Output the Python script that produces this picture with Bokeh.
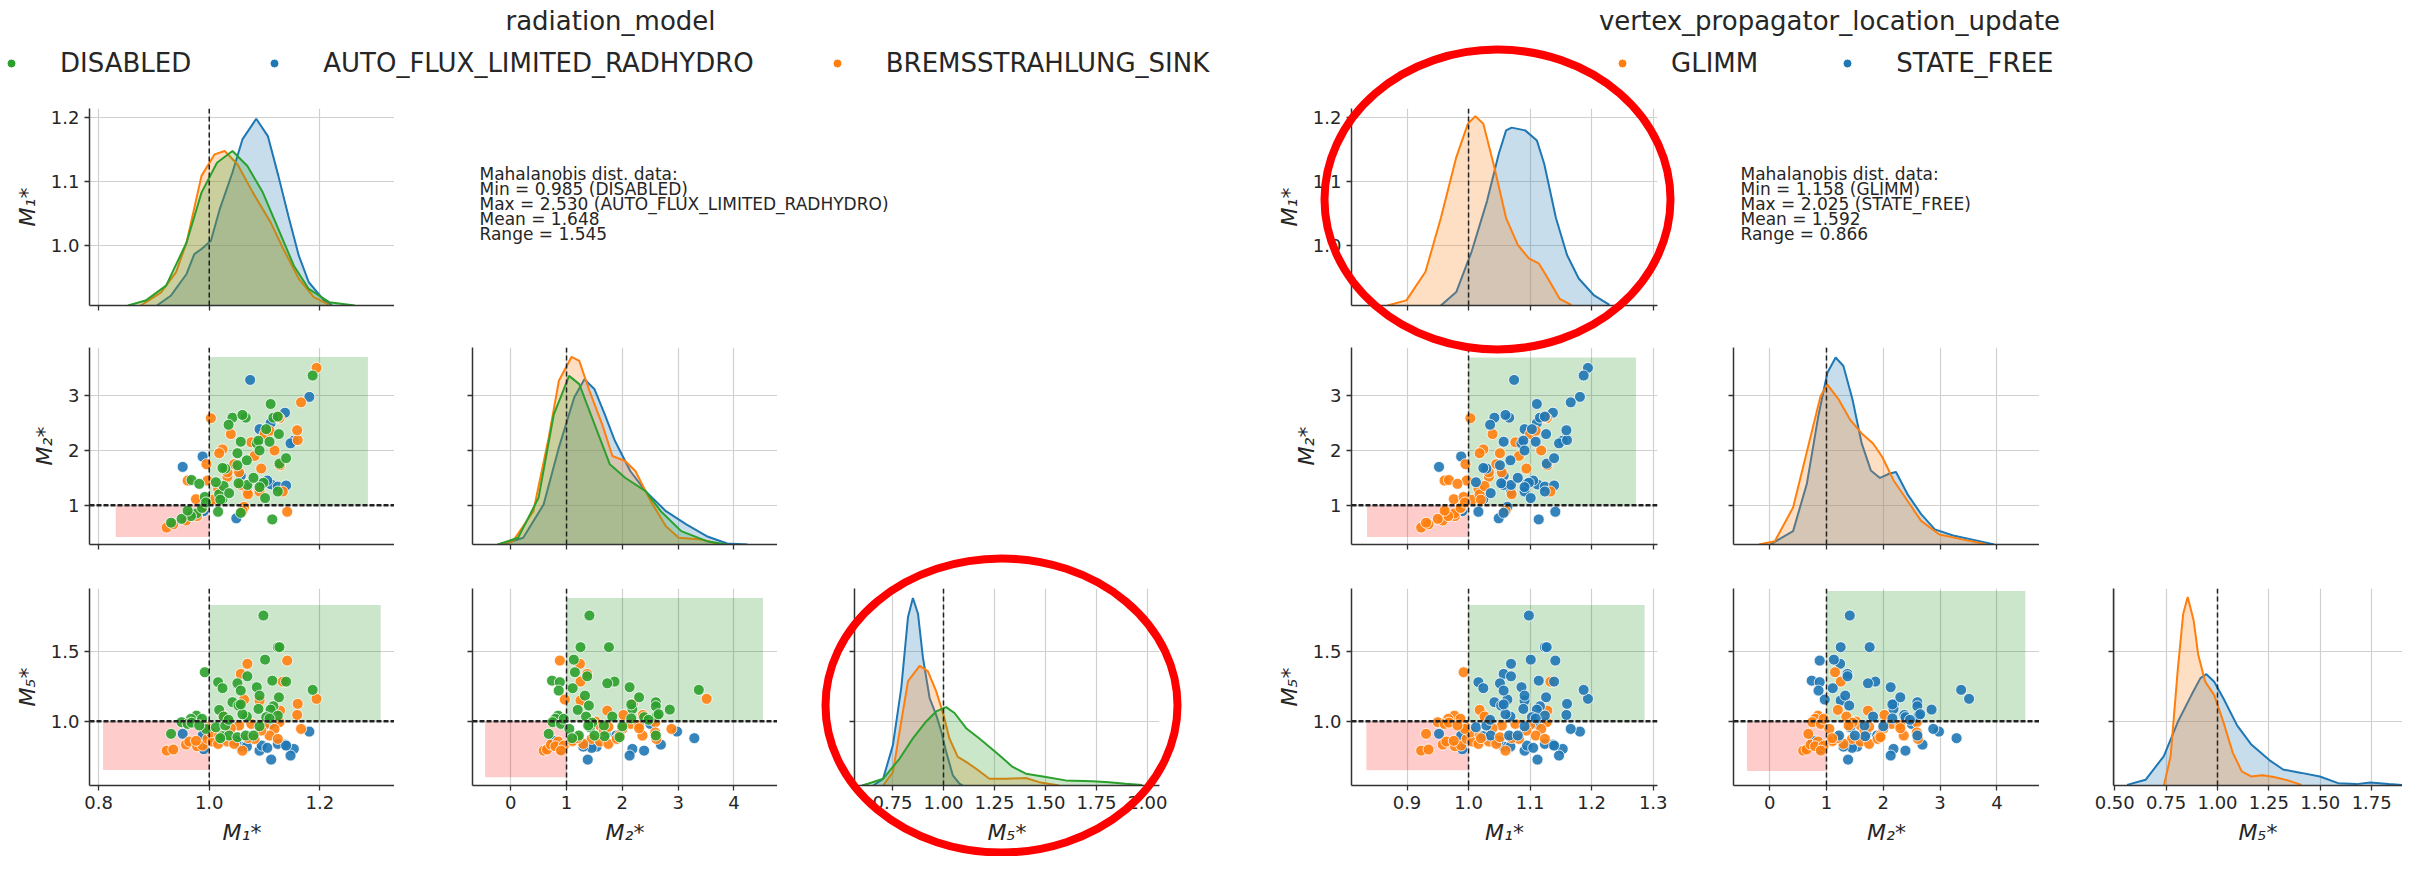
import numpy as np
from bokeh.plotting import figure
from bokeh.models import (Range1d, FixedTicker, PrintfTickFormatter, Span, Label, Legend,
                          Spacer, ColumnDataSource)
from bokeh.layouts import column, row
from bokeh.embed import file_html
from bokeh.resources import INLINE

FONT = "DejaVu Sans"
INK = "#262626"
BLUE, ORANGE, GREEN = "#1f77b4", "#ff7f0e", "#2ca02c"

# ---------------- categories ----------------
RAD_NAMES = {"D": "DISABLED", "A": "AUTO_FLUX_LIMITED_RADHYDRO", "B": "BREMSSTRAHLUNG_SINK"}
RAD_ORDER = ["D", "A", "B"]
RAD_COLOR = {"D": GREEN, "A": BLUE, "B": ORANGE}
VPL_NAMES = {"G": "GLIMM", "S": "STATE_FREE"}
VPL_ORDER = ["G", "S"]
VPL_COLOR = {"G": ORANGE, "S": BLUE}

# ---------------- observations (M1*, M2*, M5*) ----------------
M1 = [1.074, 1.181, 1.137, 1.111, 1.091, 1.153, 1.147, 0.988, 0.952, 1.057, 1.112, 1.124, 1.095, 0.990, 1.049, 1.139, 1.105, 1.068,
      1.069, 1.141, 1.057, 1.133, 1.063, 1.091, 1.160, 1.194, 1.159, 1.128, 1.024, 1.166, 1.033, 1.054, 1.076, 1.100, 1.127, 1.118,
      0.923, 0.935, 0.958, 0.964, 0.978, 0.988, 0.997, 1.006, 1.016, 1.033, 1.045, 1.060, 1.082, 1.109, 1.124, 1.094, 1.003, 1.039,
      0.961, 0.976, 0.995, 1.018, 1.070,
      1.098, 1.124, 1.127, 1.101, 0.992, 1.069, 1.139, 1.114, 1.016, 1.024, 1.051, 1.057, 1.086, 1.187, 1.091, 1.126, 1.042, 1.053,
      1.089, 1.116, 1.018, 1.111, 1.124, 1.068, 1.026, 1.103, 0.977, 0.967, 0.950, 0.961, 0.987, 0.994, 1.012, 1.029, 0.931, 1.024,
      1.036, 1.051, 1.066, 1.080, 1.091, 1.020, 1.060, 1.035, 1.057, 1.109, 0.968, 0.982]
M2 = [3.29, 2.98, 2.69, 2.50, 2.39, 2.18, 2.13, 1.89, 1.70, 1.54, 1.38, 1.34, 1.40, 0.89, 0.76, 1.36, 1.45, 1.30,
      1.24, 0.88, 1.37, 1.25, 0.97, 1.25, 2.19, 3.51, 2.37, 1.73, 2.02, 2.88, 1.52, 1.60, 2.15, 2.30, 2.59, 2.00,
      0.59, 0.65, 0.72, 0.85, 0.80, 0.95, 1.45, 1.10, 1.30, 1.60, 1.75, 0.90, 1.90, 2.36, 2.61, 1.67, 2.59, 2.30,
      1.45, 1.11, 1.75, 1.95, 1.20,
      1.41, 1.25, 1.76, 1.13, 1.15, 1.37, 1.86, 0.74, 0.88, 1.11, 1.73, 0.86, 2.13, 3.37, 1.33, 2.30, 2.60, 1.40,
      2.18, 2.60, 1.20, 2.85, 2.62, 1.82, 1.35, 2.39, 0.85, 0.80, 0.75, 0.90, 0.95, 1.05, 1.42, 1.67, 0.68, 1.68,
      1.22, 1.95, 2.60, 1.50, 2.00, 1.10, 2.65, 2.47, 2.16, 2.16, 1.46, 1.39]
M5 = [0.879, 0.926, 0.833, 0.981, 0.790, 0.802, 0.755, 0.898, 0.910, 0.819, 0.726, 0.838, 0.826, 0.800, 0.860, 0.826, 0.810, 0.819,
      1.410, 1.433, 1.338, 1.283, 1.155, 1.148, 1.124, 1.160, 1.045, 1.076, 1.045, 0.945, 0.998, 0.969, 0.981, 0.974, 0.993, 0.945,
      0.790, 0.798, 0.833, 0.855, 0.821, 0.826, 0.874, 0.855, 0.838, 0.855, 0.838, 0.790, 0.874, 0.898, 0.874, 0.933, 0.920, 0.950,
      0.990, 0.860, 0.960, 0.900, 0.880,
      1.755, 1.529, 1.529, 1.440, 1.350, 1.321, 1.283, 1.290, 1.279, 1.236, 1.271, 1.219, 1.243, 1.224, 1.183, 1.171, 1.136, 1.112,
      1.088, 1.107, 1.081, 1.083, 1.040, 1.033, 1.033, 1.029, 1.040, 1.017, 0.993, 0.981, 1.017, 0.945, 0.957, 0.969, 0.910, 0.893,
      0.898, 0.886, 0.898, 0.898, 0.964, 0.879, 1.050, 1.010, 1.120, 1.020, 0.990, 0.970]
RAD = list("AAAAAAAAAAAAAAAAAA") + list("BBBBBBBBBBBBBBBBBBBBBBBBBBBBBBBBBBBBBBBBB") + \
      list("DDDDDDDDDDDDDDDDDDDDDDDDDDDDDDDDDDDDDDDDDDDDDDDD")
VPL = list("SSSSSSSSSSSSSSSSSS") + \
      list("SSSGSSSSSGGSGGGGGG") + list("GGGGGGGGGGGGGGGGGGGGGGG") + \
      list("SSSSGSSSSSSSSSSSSSSSGSSSGSGGGGGGSSGSSGSSSGSSSSGG")

# ---------------- KDE curves (x, relative height) ----------------
LM1_A_X = [0.9055, 0.931, 0.959, 0.973, 0.986, 1.003, 1.019, 1.042, 1.060, 1.085, 1.106, 1.125, 1.143, 1.162, 1.180, 1.208, 1.222]
LM1_A_H = [0, 0.051, 0.160, 0.261, 0.287, 0.329, 0.489, 0.675, 0.843, 0.948, 0.860, 0.658, 0.455, 0.253, 0.118, 0.025, 0.003]
LM1_B_X = [0.876, 0.913, 0.940, 0.959, 0.986, 1.0095, 1.028, 1.051, 1.079, 1.111, 1.134, 1.162, 1.189, 1.217]
LM1_B_H = [0, 0.067, 0.169, 0.320, 0.658, 0.767, 0.784, 0.717, 0.573, 0.422, 0.287, 0.135, 0.042, 0.003]
LM1_D_X = [0.853, 0.885, 0.922, 0.959, 0.986, 1.014, 1.042, 1.069, 1.097, 1.125, 1.153, 1.180, 1.217, 1.263]
LM1_D_H = [0, 0.025, 0.101, 0.320, 0.573, 0.725, 0.784, 0.708, 0.573, 0.388, 0.202, 0.084, 0.017, 0]

LM2_A_X = [-0.142, 0.224, 0.589, 0.863, 1.137, 1.320, 1.502, 1.685, 1.868, 2.142, 2.416, 2.781, 3.146, 3.511, 3.877, 4.242]
LM2_A_H = [0, 0.034, 0.203, 0.492, 0.746, 0.839, 0.788, 0.661, 0.525, 0.373, 0.271, 0.169, 0.102, 0.042, 0.005, 0]
LM2_B_X = [-0.233, 0.041, 0.406, 0.680, 0.863, 1.091, 1.228, 1.411, 1.639, 1.822, 2.050, 2.233, 2.507, 2.781, 3.009, 3.420, 3.694]
LM2_B_H = [0, 0.017, 0.169, 0.542, 0.831, 0.953, 0.932, 0.780, 0.610, 0.449, 0.424, 0.373, 0.220, 0.093, 0.034, 0.025, 0.005]
LM2_D_X = [-0.233, 0.132, 0.498, 0.772, 1.046, 1.228, 1.502, 1.776, 2.050, 2.416, 2.689, 3.055, 3.511, 3.877]
LM2_D_H = [0, 0.034, 0.237, 0.661, 0.856, 0.814, 0.610, 0.407, 0.339, 0.271, 0.169, 0.068, 0.017, 0]

LM5_A_X = [0.655, 0.704, 0.752, 0.793, 0.826, 0.850, 0.875, 0.899, 0.932, 0.964, 0.989, 1.013, 1.046, 1.078, 1.094]
LM5_A_H = [0, 0.034, 0.205, 0.496, 0.855, 0.952, 0.872, 0.650, 0.444, 0.359, 0.274, 0.171, 0.051, 0.009, 0]
LM5_B_X = [0.704, 0.752, 0.793, 0.826, 0.883, 0.923, 0.964, 1.000, 1.029, 1.070, 1.111, 1.160, 1.225, 1.306, 1.404, 1.469, 1.567]
LM5_B_H = [0, 0.068, 0.325, 0.530, 0.607, 0.581, 0.479, 0.359, 0.239, 0.145, 0.120, 0.085, 0.034, 0.034, 0.038, 0.017, 0]
LM5_D_X = [0.600, 0.630, 0.704, 0.785, 0.850, 0.915, 0.964, 1.013, 1.054, 1.111, 1.176, 1.274, 1.339, 1.404, 1.502, 1.599, 1.730, 1.811, 1.893, 1.974]
LM5_D_H = [0, 0.009, 0.034, 0.137, 0.239, 0.325, 0.376, 0.398, 0.368, 0.291, 0.239, 0.154, 0.094, 0.060, 0.043, 0.026, 0.021, 0.017, 0.009, 0.003]

RM1_G_X = [0.868, 0.899, 0.930, 0.955, 0.980, 0.999, 1.011, 1.024, 1.042, 1.061, 1.080, 1.098, 1.114, 1.129, 1.148, 1.167]
RM1_G_H = [0, 0.026, 0.171, 0.444, 0.752, 0.923, 0.961, 0.923, 0.701, 0.444, 0.308, 0.239, 0.214, 0.137, 0.034, 0.003]
RM1_S_X = [0.955, 0.980, 1.005, 1.030, 1.049, 1.061, 1.070, 1.092, 1.111, 1.123, 1.142, 1.160, 1.179, 1.204, 1.229]
RM1_S_H = [0, 0.068, 0.274, 0.530, 0.769, 0.889, 0.903, 0.889, 0.838, 0.718, 0.444, 0.256, 0.137, 0.051, 0.003]

RM2_S_X = [0.010, 0.412, 0.654, 0.855, 1.016, 1.161, 1.298, 1.459, 1.620, 1.781, 1.942, 2.103, 2.223, 2.425, 2.666, 2.907, 3.229, 3.551, 3.954]
RM2_S_H = [0, 0.068, 0.308, 0.650, 0.872, 0.949, 0.906, 0.735, 0.513, 0.376, 0.338, 0.359, 0.368, 0.256, 0.154, 0.077, 0.046, 0.026, 0]
RM2_G_X = [-0.191, 0.091, 0.412, 0.734, 0.895, 1.016, 1.217, 1.419, 1.620, 1.821, 1.982, 2.183, 2.425, 2.666, 2.988, 3.390, 3.793]
RM2_G_H = [0, 0.017, 0.188, 0.564, 0.752, 0.812, 0.735, 0.632, 0.564, 0.513, 0.444, 0.325, 0.222, 0.120, 0.051, 0.026, 0.003]

RM5_G_X = [0.739, 0.772, 0.806, 0.833, 0.855, 0.884, 0.906, 0.940, 0.984, 1.029, 1.074, 1.118, 1.163, 1.219, 1.275, 1.342, 1.408]
RM5_G_H = [0, 0.149, 0.579, 0.871, 0.957, 0.837, 0.665, 0.527, 0.459, 0.321, 0.167, 0.072, 0.046, 0.052, 0.043, 0.026, 0.003]
RM5_S_X = [0.560, 0.650, 0.739, 0.806, 0.873, 0.917, 0.946, 0.984, 1.029, 1.096, 1.163, 1.252, 1.319, 1.408, 1.498, 1.587, 1.676, 1.743, 1.833, 1.922]
RM5_S_H = [0.003, 0.029, 0.149, 0.321, 0.459, 0.545, 0.565, 0.527, 0.442, 0.304, 0.210, 0.129, 0.081, 0.064, 0.046, 0.012, 0.007, 0.015, 0.007, 0]

# ---------------- shaded regions (left, right, bottom, top) : [red, green] ----------------
RECT_L_12 = ([0.831, 1.0], [1.0, 1.287], [0.42, 1.0], [1.0, 3.71])
RECT_L_15 = ([0.808, 1.0], [1.0, 1.310], [0.652, 1.0], [1.0, 1.83])
RECT_L_25 = ([-0.46, 1.0], [1.0, 4.52], [0.60, 1.0], [1.0, 1.88])
RECT_R_12 = ([0.835, 1.0], [1.0, 1.272], [0.42, 1.0], [1.0, 3.70])
RECT_R_15 = ([0.834, 1.0], [1.0, 1.286], [0.65, 1.0], [1.0, 1.83])
RECT_R_25 = ([-0.40, 1.0], [1.0, 4.50], [0.645, 1.0], [1.0, 1.93])
RECT_COLORS = ["red", "green"]

# ---------------- texts ----------------
LEFT_TITLE = "radiation_model"
RIGHT_TITLE = "vertex_propagator_location_update"
LEFT_STATS = ["Mahalanobis dist. data:", "Min = 0.985 (DISABLED)",
              "Max = 2.530 (AUTO_FLUX_LIMITED_RADHYDRO)", "Mean = 1.648", "Range = 1.545"]
RIGHT_STATS = ["Mahalanobis dist. data:", "Min = 1.158 (GLIMM)",
               "Max = 2.025 (STATE_FREE)", "Mean = 1.592", "Range = 0.866"]
LAB1, LAB2, LAB5 = "M\u2081*", "M\u2082*", "M\u2085*"

# ---------------- red highlight ellipses (page pixels: centre x, centre y, width, height) ----------------
ELL_X = [1001, 1497]
ELL_Y = [705, 199]
ELL_W = [352, 346]
ELL_H = [294, 300]

# ---------------- axis ranges and ticks ----------------
XR_L1, XR_L2, XR_L3 = (0.7835, 1.335), (-0.685, 4.78), (0.5637, 2.059)
XR_R1, XR_R2, XR_R3 = (0.8098, 1.307), (-0.637, 4.75), (0.494, 1.90)
YR_1, YR_2, YR_3 = (0.906, 1.214), (0.281, 3.883), (0.541, 1.948)
TK_L1 = [0.8, 1.0, 1.2]
TK_R1 = [0.9, 1.0, 1.1, 1.2, 1.3]
TK_2 = [0, 1, 2, 3, 4]
TK_L3 = [0.75, 1.0, 1.25, 1.5, 1.75, 2.0]
TK_R3 = [0.5, 0.75, 1.0, 1.25, 1.5, 1.75]
TY_1, TY_2, TY_3 = [1.0, 1.1, 1.2], [1, 2, 3], [1.0, 1.5]

PAGE_W, PAGE_H = 2402, 856
FH = 197
ROW_B = {1: (12, 20), 2: (22, 10), 3: (34, 71)}
ROW_H = {r: FH + t + b for r, (t, b) in ROW_B.items()}
HDR_H = 96


def style_axis(ax, show, label):
    ax.axis_line_color = "#333333"
    ax.axis_line_width = 1.5
    ax.major_tick_line_color = "#333333"
    ax.major_tick_line_width = 1.3
    ax.major_tick_out = 5
    ax.major_tick_in = 0
    ax.minor_tick_line_color = None
    ax.major_label_text_font = FONT
    if show:
        ax.major_label_text_color = INK
        ax.major_label_text_font_size = "18px"
        ax.major_label_standoff = 5
    else:
        ax.major_label_text_color = None
        ax.major_label_text_font_size = "1px"
        ax.major_label_standoff = 0
    if label:
        ax.axis_label = label
        ax.axis_label_text_font = FONT
        ax.axis_label_text_font_size = "22px"
        ax.axis_label_text_font_style = "italic"
        ax.axis_label_text_color = INK
        ax.axis_label_standoff = 8


def panel(xr, yr, xt, yt, xfmt, yfmt, fw, bl, br, rown, xlab=None, ylab=None, xl=False, yl=False):
    bt, bb = ROW_B[rown]
    p = figure(x_range=Range1d(*xr), y_range=Range1d(*yr), frame_width=fw, frame_height=FH,
               min_border_left=bl, min_border_right=br, min_border_top=bt, min_border_bottom=bb,
               toolbar_location=None, output_backend="svg", title=None)
    p.outline_line_color = None
    p.xaxis.ticker = FixedTicker(ticks=xt)
    p.yaxis.ticker = FixedTicker(ticks=yt)
    p.xgrid.ticker = FixedTicker(ticks=xt)
    p.ygrid.ticker = FixedTicker(ticks=yt)
    p.xaxis.formatter = PrintfTickFormatter(format=xfmt)
    p.yaxis.formatter = PrintfTickFormatter(format=yfmt)
    style_axis(p.xaxis[0], xl, xlab)
    style_axis(p.yaxis[0], yl, ylab)
    p.grid.grid_line_color = "#d0d0d0"
    p.grid.grid_line_width = 1.2
    return p


def vref(p):
    p.add_layout(Span(location=1, dimension="height", line_color="#222222", line_dash="5 3", line_width=1.5))


def href(p):
    p.add_layout(Span(location=1, dimension="width", line_color="#222222", line_dash="5 2", line_width=2.5))


def add_rects(p, rect):
    l, r, b, t = rect
    p.quad(left=l, right=r, bottom=b, top=t, fill_color=RECT_COLORS, fill_alpha=0.2, line_color=None)


def add_scatter(p, xs, ys, codes, cmap):
    src = ColumnDataSource(dict(x=xs, y=ys, c=[cmap[k] for k in codes]))
    p.scatter("x", "y", source=src, size=11, fill_color="c", line_color="white",
              line_width=0.8, fill_alpha=0.9)


def add_kde(p, curves):
    p.extra_y_ranges = {"kde": Range1d(0, 1)}
    for xs, hs, c in curves:
        p.varea(x=xs, y1=0, y2=hs, y_range_name="kde", fill_color=c, fill_alpha=0.25)
        p.line(xs, hs, y_range_name="kde", line_color=c, line_width=2)


def blank(w, h, y_down=False):
    yr = Range1d(h, 0) if y_down else Range1d(0, h)
    f = figure(width=w, height=h, x_range=Range1d(0, w), y_range=yr, min_border=0,
               x_axis_location=None, y_axis_location=None, toolbar_location=None,
               output_backend="svg", title=None)
    f.grid.visible = False
    f.outline_line_color = None
    return f


# ---------------- left pairplot ----------------
L11 = panel(XR_L1, YR_1, TK_L1, TY_1, "%.1f", "%.1f", 305, 89, 0, 1, ylab=LAB1, yl=True)
add_kde(L11, [(LM1_A_X, LM1_A_H, BLUE), (LM1_B_X, LM1_B_H, ORANGE), (LM1_D_X, LM1_D_H, GREEN)])
vref(L11)

L21 = panel(XR_L1, YR_2, TK_L1, TY_2, "%.1f", "%d", 305, 89, 0, 2, ylab=LAB2, yl=True)
add_rects(L21, RECT_L_12)
add_scatter(L21, M1, M2, RAD, RAD_COLOR)
vref(L21); href(L21)

L22 = panel(XR_L2, YR_2, TK_2, TY_2, "%d", "%d", 305, 78, 0, 2)
add_kde(L22, [(LM2_A_X, LM2_A_H, BLUE), (LM2_B_X, LM2_B_H, ORANGE), (LM2_D_X, LM2_D_H, GREEN)])
vref(L22)

L31 = panel(XR_L1, YR_3, TK_L1, TY_3, "%.1f", "%.1f", 305, 89, 0, 3, xlab=LAB1, ylab=LAB5, xl=True, yl=True)
add_rects(L31, RECT_L_15)
add_scatter(L31, M1, M5, RAD, RAD_COLOR)
vref(L31); href(L31)

L32 = panel(XR_L2, YR_3, TK_2, TY_3, "%d", "%.1f", 305, 78, 0, 3, xlab=LAB2, xl=True)
add_rects(L32, RECT_L_25)
add_scatter(L32, M2, M5, RAD, RAD_COLOR)
vref(L32); href(L32)

L33 = panel(XR_L3, YR_3, TK_L3, TY_3, "%.2f", "%.1f", 305, 77, 30, 3, xlab=LAB5, xl=True)
add_kde(L33, [(LM5_A_X, LM5_A_H, BLUE), (LM5_B_X, LM5_B_H, ORANGE), (LM5_D_X, LM5_D_H, GREEN)])
vref(L33)

# ---------------- right pairplot ----------------
R11 = panel(XR_R1, YR_1, TK_R1, TY_1, "%.1f", "%.1f", 306, 162, 20, 1, ylab=LAB1, yl=True)
add_kde(R11, [(RM1_S_X, RM1_S_H, BLUE), (RM1_G_X, RM1_G_H, ORANGE)])
vref(R11)

R21 = panel(XR_R1, YR_2, TK_R1, TY_2, "%.1f", "%d", 306, 162, 20, 2, ylab=LAB2, yl=True)
add_rects(R21, RECT_R_12)
add_scatter(R21, M1, M2, VPL, VPL_COLOR)
vref(R21); href(R21)

R22 = panel(XR_R2, YR_2, TK_2, TY_2, "%d", "%d", 306, 56, 0, 2)
add_kde(R22, [(RM2_S_X, RM2_S_H, BLUE), (RM2_G_X, RM2_G_H, ORANGE)])
vref(R22)

R31 = panel(XR_R1, YR_3, TK_R1, TY_3, "%.1f", "%.1f", 306, 162, 20, 3, xlab=LAB1, ylab=LAB5, xl=True, yl=True)
add_rects(R31, RECT_R_15)
add_scatter(R31, M1, M5, VPL, VPL_COLOR)
vref(R31); href(R31)

R32 = panel(XR_R2, YR_3, TK_2, TY_3, "%d", "%.1f", 306, 56, 0, 3, xlab=LAB2, xl=True)
add_rects(R32, RECT_R_25)
add_scatter(R32, M2, M5, VPL, VPL_COLOR)
vref(R32); href(R32)

R33 = panel(XR_R3, YR_3, TK_R3, TY_3, "%.2f", "%.1f", 289, 74, 0, 3, xlab=LAB5, xl=True)
add_kde(R33, [(RM5_S_X, RM5_S_H, BLUE), (RM5_G_X, RM5_G_H, ORANGE)])
vref(R33)

# ---------------- header: titles + legends ----------------
hdr = blank(PAGE_W, HDR_H)
for txt, cx in ((LEFT_TITLE, 610), (RIGHT_TITLE, 1829)):
    hdr.add_layout(Label(x=cx, y=76, text=txt, text_align="center", text_baseline="middle",
                         text_font=FONT, text_font_size="26px", text_color=INK))


def legend(order, names, colors, x0, spacing):
    items = []
    for k in order:
        r = hdr.scatter(x=[np.nan], y=[np.nan], size=10, fill_color=colors[k], line_color="white")
        items.append((names[k], [r]))
    leg = Legend(items=items, location=(x0, 18), orientation="horizontal", glyph_width=22,
                 glyph_height=30, label_height=30, label_standoff=38, spacing=spacing, padding=0,
                 margin=0, border_line_color=None, background_fill_alpha=0,
                 label_text_font=FONT, label_text_font_size="26px", label_text_color=INK)
    hdr.add_layout(leg)


legend(RAD_ORDER, RAD_NAMES, RAD_COLOR, 0, 72)
legend(VPL_ORDER, VPL_NAMES, VPL_COLOR, 1611, 78)

# ---------------- statistics text ----------------
TL = blank(795, ROW_H[1])
TR = blank(725, ROW_H[1])
for fig, lines, x0 in ((TL, LEFT_STATS, 85), (TR, RIGHT_STATS, 63)):
    for i, s in enumerate(lines):
        fig.add_layout(Label(x=x0, y=164 - i * 17.2, text=s, text_baseline="top",
                             text_font=FONT, text_font_size="17px", text_color=INK))

# ---------------- transparent overlay carrying the red highlight ellipses ----------------
ovl = blank(PAGE_W, PAGE_H, y_down=True)
ovl.background_fill_alpha = 0
ovl.border_fill_alpha = 0
ovl.ellipse(x=ELL_X, y=ELL_Y, width=ELL_W, height=ELL_H, fill_color=None,
            line_color="red", line_width=8)
ovl.margin = (-PAGE_H, 0, 0, 0)

layout = column(
    hdr,
    row(L11, TL, R11, TR),
    row(L21, L22, Spacer(width=412, height=ROW_H[2]), R21, R22, Spacer(width=363, height=ROW_H[2])),
    row(L31, L32, L33, R31, R32, R33),
    ovl,
)

open("out.html", "w").write(file_html(layout, INLINE))
